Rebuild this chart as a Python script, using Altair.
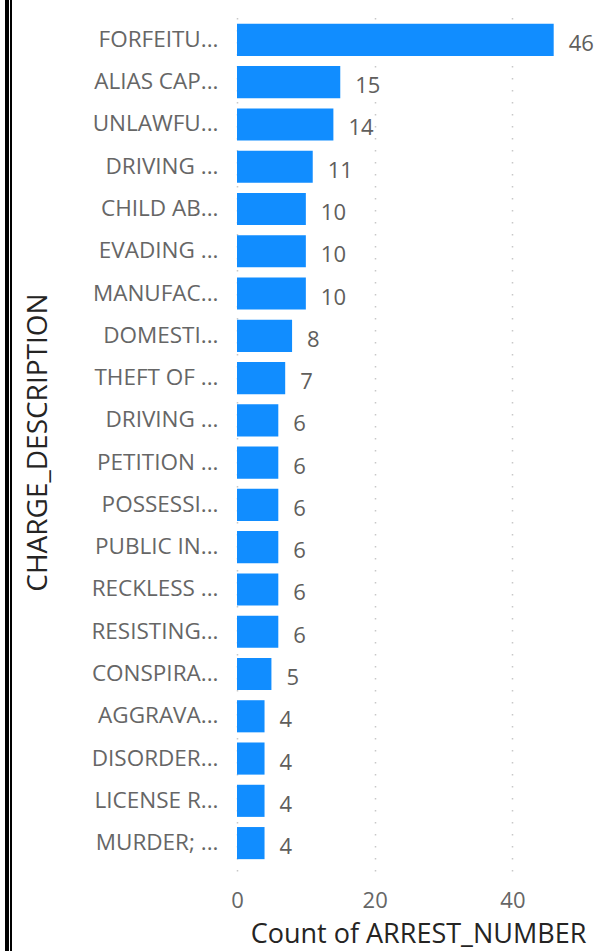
import altair as alt
import pandas as pd

categories = [
    "FORFEITU...", "ALIAS CAP...", "UNLAWFU...", "DRIVING ...", "CHILD AB...",
    "EVADING ...", "MANUFAC...", "DOMESTI...", "THEFT OF ...", "DRIVING  ...",
    "PETITION ...", "POSSESSI...", "PUBLIC IN...", "RECKLESS ...", "RESISTING...",
    "CONSPIRA...", "AGGRAVA...", "DISORDER...", "LICENSE R...", "MURDER; ...",
]
counts = [46, 15, 14, 11, 10, 10, 10, 8, 7, 6, 6, 6, 6, 6, 6, 5, 4, 4, 4, 4]
x_ticks = [0, 20, 40]

df = pd.DataFrame({"cat": categories, "n": counts})

FONT = "Segoe UI, Open Sans, sans-serif"

y_enc = alt.Y(
    "cat:N",
    sort=categories,
    scale=alt.Scale(paddingInner=0.24, paddingOuter=0.28),
    axis=alt.Axis(
        title="CHARGE_DESCRIPTION",
        titleFont=FONT, titleFontSize=28, titleFontWeight="normal", titleColor="#252423",
        titleAngle=-90, titleAlign="center", titleBaseline="middle",
        titleX=-199, titleY=430,
        labelFont=FONT, labelFontSize=22.5, labelColor="#666666", labelPadding=19,
        labelLimit=220,
        ticks=False, domain=False, grid=False,
    ),
)

x_enc = alt.X(
    "n:Q",
    scale=alt.Scale(domain=[0, 52], nice=False),
    axis=alt.Axis(
        title="Count of ARREST_NUMBER",
        titleFont=FONT, titleFontSize=27, titleFontWeight="normal", titleColor="#252423",
        titleX=181, titleY=63, titleAlign="center", titleBaseline="middle",
        values=x_ticks, labelFlush=False,
        labelFont=FONT, labelFontSize=22, labelColor="#666666", labelPadding=19,
        ticks=False, domain=False,
        grid=True, gridColor="#c8c8c8", gridDash=[1.5, 10.5], gridWidth=1.5,
    ),
)

bars = alt.Chart(df).mark_bar(color="#118DFF").encode(x=x_enc, y=y_enc)

labels = alt.Chart(df).mark_text(
    align="left", baseline="middle", dx=15, dy=4,
    font=FONT, fontSize=22, color="#605E5C",
).encode(
    x=alt.X("n:Q"),
    y=alt.Y("cat:N", sort=categories),
    text="n:Q",
)

border_thick = alt.Chart(df).mark_rule(color="#000000", strokeWidth=2.4).encode(
    x=alt.value(-230), y=alt.value(-12), y2=alt.value(939)
)
border_thin = alt.Chart(df).mark_rule(color="#000000", strokeWidth=1.2).encode(
    x=alt.value(-226.4), y=alt.value(-12), y2=alt.value(939)
)

chart = alt.layer(bars, labels, border_thick, border_thin).properties(
    width=358, height=859,
    autosize=alt.AutoSizeParams(type="none"),
    padding={"left": 237, "top": 12, "right": 2, "bottom": 80},
    background="#ffffff",
).configure_view(stroke=None)

chart.save("out.html", embed_options={"renderer": "svg", "actions": False})
